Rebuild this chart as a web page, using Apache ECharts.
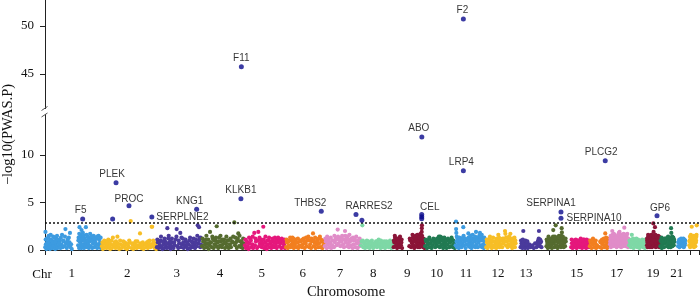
<!DOCTYPE html>
<html><head><meta charset="utf-8">
<script src="https://cdn.jsdelivr.net/npm/echarts@6/dist/echarts.min.js"></script>
<style>html,body{margin:0;padding:0;background:#fff}#c{width:700px;height:300px}</style>
</head><body><div id="c"></div>
<script>
// chromosome lengths (Mb)
const chrLen = [249,242,198,190,181,171,159,145,138,134,135,133,114,107,102,90,83,80,59,64,47,51];
// tick positions (cumulative Mb) and labels
const chrTicks = [117.6,362.6,580,771,954.6,1135,1299.6,1446,1596,1725.6,1854.6,1995.6,2119,2222,2342,2430,2518.5,2613.6,2678,2738.8,2783,2841];
const chrTickLabels = ['1','2','3','4','5','6','7','8','9','10','11','12','13','','15','','17','','19','','21',''];
const xMax = 2881;
const threshold = 2.92;

// [position within chromosome (Mb), -log10(P)]
const chr1 = [[1,0.3],[2,1.9],[4,0.6],[6,0.1],[8,1.2],[10,0.4],[12,0.8],[14,0.2],[16,1.5],[18,0.5],[20,0.9],[22,0.1],[24,0.6],[26,1.1],[28,0.3],[30,0.7],[33,0.2],[36,1.4],[38,0.5],[40,0.9],[43,0.3],[45,0.1],[47,0.7],[50,1.2],[52,0.4],[55,0.2],[58,0.8],[62,0.5],[65,1.0],[68,0.2],[72,0.6],[75,1.6],[78,0.3],[82,0.9],[86,0.4],[90,2.2],[93,0.7],[96,0.2],[100,1.1],[103,0.5],[108,0.8],[110,1.8],[112,0.3],[115,0.6],[118,0.1],[146,0.5],[148,1.3],[150,0.2],[152,2.4],[153,0.9],[155,0.4],[156,1.6],[158,0.7],[160,0.2],[161,2.1],[163,1.0],[165,0.4],[167,1.8],[170,0.6],[172,0.2],[175,1.2],[178,0.5],[180,2.4],[182,0.8],[185,0.3],[188,1.4],[190,0.6],[193,0.2],[196,0.9],[199,1.7],[202,0.4],[205,1.1],[208,0.2],[211,0.7],[214,1.5],[217,0.3],[220,0.9],[224,0.5],[227,1.2],[230,0.2],[234,0.6],[236,1.5],[240,0.3],[243,0.8],[246,0.2],[248,0.5],
  [3,1.1],[9,0.7],[15,1.3],[19,0.9],[25,1.6],[29,1.0],[35,0.8],[41,1.3],[46,0.9],[53,1.5],[57,1.1],[63,0.7],[70,1.3],[80,1.0],[88,1.4],[98,0.9],[105,1.3],[147,1.0],[151,1.7],[154,1.2],[157,1.1],[162,1.4],[166,1.2],[171,1.5],[176,0.9],[183,1.6],[187,1.0],[192,1.3],[198,1.1],[204,1.4],[210,1.0],[216,1.2],[222,0.8],[229,1.4],[238,1.1],[245,1.3]];
const chr2 = [[2,0.4],[6,0.1],[10,0.7],[14,0.3],[18,0.9],[22,0.2],[26,0.5],[30,1.1],[34,0.3],[38,0.1],[42,0.6],[46,0.2],[50,1.3],[54,0.4],[58,0.8],[62,0.2],[66,0.5],[70,1.4],[74,0.3],[78,0.1],[84,0.6],[88,0.2],[96,0.9],[100,0.4],[104,0.2],[108,0.7],[112,0.1],[116,0.5],[120,0.3],[125,0.8],[128.5,3.05],[132,0.2],[136,0.6],[140,0.1],[145,0.4],[150,0.9],[155,0.2],[160,0.5],[165,0.3],[169.5,1.75],[172,0.7],[176,0.2],[180,0.4],[185,0.1],[190,0.6],[196,0.3],[200,0.8],[204,0.2],[208,0.5],[212,1.0],[216,0.3],[219,0.6],[221,2.45],[223,2.45],[226,0.4],[230,0.8],[234,0.2],[238,0.5],[241,0.1],
  [4,0.8],[12,1.0],[20,0.6],[28,0.9],[36,0.7],[44,1.0],[56,0.6],[64,0.9],[72,0.7],[82,1.0],[92,0.5],[102,0.8],[114,0.6],[122,1.0],[138,0.7],[148,0.6],[158,0.9],[170,0.5],[182,0.8],[194,0.6],[206,0.9],[214,0.6],[228,1.0],[236,0.7]];
const chr3 = [[2,0.3],[6,0.8],[10,0.2],[14,0.5],[18,1.0],[22,0.3],[26,0.1],[30,0.6],[34,0.2],[38,0.9],[42,0.4],[46,0.2],[48,2.3],[50,0.7],[52,1.2],[55,0.3],[58,0.6],[62,0.1],[66,0.4],[70,0.8],[75,0.2],[80,0.5],[85,1.1],[89,2.2],[92,0.4],[96,0.2],[100,0.7],[105,1.8],[108,0.3],[112,0.6],[116,1.2],[120,0.2],[125,0.5],[130,0.9],[134,0.3],[138,0.1],[142,0.6],[146,1.0],[150,0.2],[154,0.4],[158,0.8],[162,0.3],[166,0.6],[170,0.2],[174,1.1],[178,0.4],[181.7,2.6],[184,0.7],[187.4,2.4],[190,1.2],[193,0.3],[196,0.6],
  [4,1.1],[12,0.8],[20,1.4],[28,0.9],[36,1.2],[44,0.7],[54,1.5],[60,0.9],[68,1.2],[78,0.8],[88,1.4],[98,1.0],[110,1.3],[118,0.8],[128,1.1],[136,0.7],[148,1.3],[156,0.9],[164,1.2],[172,0.8],[180,1.5],[188,1.0],[194,1.3]];
const chr4 = [[3,0.4],[8,0.9],[12,0.2],[16,0.6],[20,1.1],[24,0.3],[28,0.7],[32,0.1],[36,0.5],[38,1.9],[42,0.8],[46,0.3],[50,1.2],[54,0.2],[58,0.6],[62,1.0],[66,0.4],[67.4,2.5],[70,0.8],[74,0.2],[78,1.3],[82,0.5],[86,0.9],[90,0.3],[95,0.6],[100,1.1],[104,0.2],[108,0.7],[112,0.4],[116,1.0],[120,0.2],[125,0.6],[130,0.3],[135,0.9],[140,1.4],[145,2.9],[148,0.5],[152,0.8],[156,0.2],[160,1.2],[162.5,1.75],[166,0.4],[170,0.9],[174,0.3],[178,0.6],[182,0.2],[186,0.7],
  [5,1.2],[14,0.9],[22,1.5],[30,1.1],[40,0.8],[48,1.4],[56,1.0],[64,1.3],[76,0.9],[84,1.5],[92,1.1],[102,0.8],[110,1.4],[118,1.0],[128,1.2],[138,0.8],[150,1.3],[158,1.0],[168,1.5],[176,0.9],[184,1.2]];
const chr5 = [[2,0.5],[6,0.2],[10,0.9],[14,0.4],[18,0.1],[22,0.7],[26,1.2],[30,0.3],[34,0.6],[38,0.2],[43,1.8],[46,0.5],[50,0.9],[55,0.2],[60.6,1.9],[64,0.4],[68,0.7],[72,1.1],[76,0.3],[80,0.6],[82.7,2.45],[86,0.2],[90,0.8],[94,0.4],[98,0.1],[102,0.6],[106,1.0],[110,0.3],[114,0.7],[118,0.2],[122,0.5],[126,0.9],[130,0.3],[134,1.3],[138,0.5],[142,0.2],[146,0.8],[150,1.1],[154,0.4],[158,0.7],[162,0.2],[166,0.9],[170,0.3],[174,0.6],[178,0.2],
  [4,1.1],[12,0.8],[20,1.3],[28,1.0],[36,1.4],[48,1.2],[58,1.0],[66,1.3],[74,0.9],[84,1.1],[92,1.4],[100,1.0],[108,1.3],[116,0.9],[124,1.2],[132,0.8],[140,1.1],[148,1.3],[156,1.0],[164,1.2],[172,0.9],[176,1.1]];
const chr6 = [[2,0.3],[6,0.8],[10,0.2],[14,0.5],[18,1.0],[22,0.3],[26,0.6],[30,1.3],[31,0.9],[32,0.4],[33,0.7],[36,0.2],[40,0.6],[44,1.1],[48,0.3],[52,0.8],[56,0.2],[60,0.5],[66,0.9],[72,0.3],[76,0.6],[80,1.2],[84,0.2],[88,0.7],[92,0.4],[96,1.0],[100,1.4],[104,0.3],[108,0.6],[112,0.2],[116,0.9],[120.6,1.75],[124,0.4],[128,0.8],[132,0.2],[136,0.6],[140,1.1],[144,0.3],[148,0.7],[151,1.4],[154,0.3],[158,0.9],[162,0.2],[166,0.5],[169,0.8],
  [4,1.1],[12,0.9],[20,1.3],[28,1.0],[34,1.2],[38,1.0],[46,0.8],[54,1.2],[64,1.0],[74,1.1],[82,0.9],[90,1.3],[98,1.1],[106,1.0],[114,1.2],[122,1.0],[130,1.3],[138,0.9],[146,1.2],[156,1.1],[164,1.0]];
const chr7 = [[2,0.4],[6,0.9],[10,0.2],[14,0.6],[18,1.1],[22,0.3],[26,0.7],[30,0.2],[34,0.5],[38,1.0],[42,0.3],[46,0.8],[50,1.3],[54,0.5],[58.4,2.15],[62,0.7],[66,1.2],[70,0.4],[74,0.9],[78,1.5],[82,0.6],[86,0.3],[90.6,2.0],[94,0.8],[98,1.1],[100,0.4],[102,1.4],[104,0.7],[108,0.3],[112,0.9],[116,0.5],[120,1.2],[124,0.2],[128,0.6],[132,1.0],[136,0.3],[142,0.7],[146,0.2],[150,0.9],[154,0.4],[157,0.6],
  [4,1.2],[12,1.4],[20,0.9],[28,1.3],[36,1.0],[44,1.5],[52,1.1],[60,1.4],[68,1.0],[76,1.3],[84,1.1],[92,1.5],[96,1.2],[106,1.1],[110,1.6],[118,1.0],[126,1.3],[134,1.1],[140,1.4],[148,1.0],[155,1.2]];
const chr8 = [[2,0.5],[5,0.9],[8,2.6],[12,0.3],[16,0.7],[20,0.2],[24,0.5],[28,1.0],[32,0.3],[36,0.6],[40,0.2],[44,0.8],[48,0.4],[52,0.6],[56,0.2],[62,0.5],[68,0.9],[72,0.3],[76,0.6],[80,1.1],[84,0.4],[88,0.2],[92,0.7],[96,0.3],[100,0.5],[104,0.9],[108,0.2],[112,0.6],[116,0.4],[120,0.8],[124,0.3],[128,0.5],[132,0.9],[136,0.2],[140,0.6],[143,0.4],
  [10,1.0],[18,0.8],[26,0.6],[34,0.9],[42,0.7],[50,1.0],[58,0.7],[66,0.6],[74,0.9],[82,0.7],[90,1.0],[98,0.8],[106,0.6],[114,0.9],[122,0.7],[130,1.0],[138,0.8]];
const chr9 = [[1,0.3],[4,0.8],[7,1.3],[10,0.4],[13,1.0],[16,0.2],[20,0.6],[24,1.2],[27,0.3],[30,0.8],[33,0.5],[36,1.1],[38,0.2],[70,0.4],[74,1.0],[78,0.3],[82,0.7],[86,1.3],[88,0.5],[92,0.2],[95,0.9],[98,1.5],[100,0.4],[103,0.7],[106,1.1],[108,0.3],[110,0.6],[112,1.4],[114,0.8],[116,0.3],[118,1.0],[120,0.5],[122,1.5],[123,0.9],[124.5,1.9],[125,2.3],[125.5,2.6],[127,1.2],[129,0.6],[131,0.3],[133,0.8],[135,0.4],[137,0.2],
  [2,1.0],[6,1.5],[12,0.7],[18,1.2],[22,0.9],[29,1.4],[35,0.8],[72,1.2],[80,0.9],[84,1.6],[90,1.0],[96,1.3],[102,1.1],[105,1.6],[111,1.0],[115,1.3],[119,1.7],[121,1.1],[126,1.5],[128,1.0],[132,1.2],[136,0.9]];
const chr10 = [[2,0.4],[6,0.9],[10,0.2],[14,0.6],[18,1.1],[22,0.3],[26,0.7],[30,0.2],[34,0.5],[40,0.9],[46,0.3],[50,0.6],[54,1.2],[58,0.4],[62,1.4],[64,0.8],[66,0.3],[70,1.0],[72,0.5],[75,1.3],[78,0.6],[81,0.2],[84,0.9],[88,0.4],[92,0.7],[96,0.2],[100,0.6],[104,1.0],[108,0.3],[112,0.8],[116,0.4],[120,1.1],[124,0.3],[128,0.6],[132,0.2],
  [4,1.1],[12,0.8],[20,1.3],[28,1.0],[38,1.2],[44,0.8],[52,1.0],[56,0.9],[60,1.1],[68,1.4],[73,1.0],[77,1.2],[82,1.0],[86,1.3],[94,1.0],[102,1.2],[110,0.9],[118,1.3],[126,1.0],[130,0.8]];
const chr11 = [[2,0.5],[3.6,3.0],[4,2.2],[5,1.8],[6,0.9],[8,0.3],[10,1.2],[13,0.6],[16,0.2],[19,0.8],[22,0.4],[25,1.0],[28,0.3],[31,0.7],[34,1.3],[35.7,2.4],[38,0.5],[42,0.9],[46,0.2],[50,0.6],[54,1.1],[57.8,1.75],[60,0.4],[62,0.8],[64,1.3],[66,0.3],[68,0.6],[70,1.0],[72,0.2],[75,0.7],[78,1.2],[82,0.4],[86,0.9],[89,0.3],[91.7,1.9],[94,0.6],[97,1.2],[100,0.3],[103,0.8],[106,1.5],[109,1.8],[112,0.5],[115,1.0],[118,0.3],[120,1.3],[123,0.6],[126,0.2],[129,0.9],[132,0.4],
  [7,1.4],[12,1.0],[18,1.3],[24,0.8],[30,1.1],[37,1.5],[44,1.2],[52,1.0],[59,1.3],[63,1.0],[67,1.5],[71,1.1],[77,1.6],[84,1.1],[88,1.4],[96,1.0],[101,1.3],[108,1.1],[111,1.4],[117,1.6],[122,1.1],[128,1.3],[131,0.9]];
const chr12 = [[2,0.3],[5,0.8],[8,0.2],[11,0.6],[14,1.0],[18,1.4],[20,0.4],[23,0.8],[26,0.2],[30,0.5],[34,0.9],[38,0.3],[42,0.6],[46,0.2],[50,1.1],[53,0.5],[55,1.6],[57,0.8],[60,0.3],[64,0.6],[68,1.0],[72,0.3],[76,0.7],[80,1.2],[84.4,2.0],[86,1.7],[88,0.5],[92,0.9],[96,0.3],[100,0.6],[104,1.0],[106,1.25],[108,1.7],[110,0.4],[113,0.8],[116,0.2],[120,0.6],[124,1.1],[128,0.3],[131,0.7],
  [4,1.1],[10,0.9],[16,1.2],[24,1.0],[32,1.3],[40,0.9],[48,1.2],[52,0.9],[58,1.3],[66,1.0],[74,1.2],[82,0.9],[90,1.3],[98,1.0],[102,1.4],[109,1.0],[118,1.2],[122,0.9],[126,1.3],[130,1.0]];
const chr13 = [[20,0.3],[24,0.7],[28,0.2],[32,2.0],[36,0.5],[40,0.2],[44,0.8],[48,0.4],[52,0.2],[58,0.6],[64,0.3],[72,0.5],[78,0.2],[84,0.7],[90,0.3],[95,0.6],[98,1.0],[101,2.0],[104,0.4],[108,0.8],[112,0.3],
  [22,1.0],[26,0.5],[30,1.1],[34,0.8],[38,0.6],[42,1.0],[46,0.6],[50,0.9],[96,0.9],[100,1.2],[102,0.6],[106,1.1],[110,0.9]];
const chr14 = [[20,0.4],[23,0.9],[26,0.2],[29,1.4],[32,0.6],[35,0.3],[38,1.0],[41,0.5],[44,0.2],[47,1.2],[50,2.1],[52,0.7],[55,0.3],[58,1.0],[60.8,2.6],[63,0.5],[66,1.3],[69,0.2],[72,0.8],[75,1.5],[78,0.4],[81,1.0],[84,0.3],[87,2.3],[88,1.85],[90,0.6],[93,1.1],[96,0.3],[99,0.8],[102,0.4],[105,0.9],
  [21,1.1],[25,0.7],[30,1.0],[34,1.2],[40,0.8],[46,1.0],[49,1.4],[53,1.1],[57,1.4],[62,1.1],[65,0.9],[70,1.1],[74,1.0],[77,1.3],[80,0.7],[83,1.2],[86,1.5],[89,1.1],[92,1.4],[95,0.8],[98,1.2],[101,1.0],[104,1.2]];
const chr15 = [[22,0.3],[25,0.7],[28,0.2],[32,0.5],[36,0.9],[40,0.3],[43,0.6],[46,0.2],[50,1.0],[53,0.4],[56,0.7],[60,0.3],[64,1.2],[67,0.5],[70,0.2],[73,0.8],[76,0.4],[79,1.1],[82,0.3],[85,0.6],[88,0.2],[91,0.9],[94,0.4],[97,0.7],[100,0.3],
  [24,1.1],[30,0.8],[34,1.0],[38,0.6],[42,1.1],[48,0.8],[52,1.0],[58,0.9],[62,0.7],[66,1.0],[72,0.6],[75,1.1],[78,0.7],[84,1.0],[87,0.8],[90,1.1],[96,0.9],[99,1.0]];
const chr16 = [[2,0.4],[6,0.8],[10,0.2],[14,0.6],[18,1.0],[22,0.3],[26,0.7],[30,0.2],[34,0.5],[46,0.3],[50,0.8],[54,0.2],[58,0.6],[62,1.0],[66,0.3],[70,1.75],[72,0.5],[75,0.9],[78,0.2],[81,0.6],[84,1.1],[87,0.4],[89,0.7],
  [4,1.0],[12,0.9],[16,1.2],[20,0.7],[28,1.0],[48,0.9],[56,1.1],[60,0.8],[64,1.2],[68,0.9],[74,1.3],[77,0.8],[80,1.0],[83,0.8],[86,1.2],[88,1.0]];
const chr17 = [[1,0.6],[3,1.2],[5,0.3],[7,0.9],[9,1.5],[11,2.0],[13,0.7],[15,1.3],[17,0.4],[19,1.0],[21,1.6],[24,0.5],[27,1.1],[30,0.3],[33,0.8],[36,1.4],[38,0.6],[40,1.8],[41,1.0],[42,0.4],[44,1.3],[46,0.7],[48,1.6],[50,0.3],[52,1.0],[54,0.6],[56,1.4],[58,0.4],[60,0.9],[62,1.2],[64,2.35],[66,0.7],[68,1.1],[70,0.4],[72,0.9],[74,1.5],[76,0.5],[78,1.0],[80,0.3],[82,0.7],
  [2,0.9],[4,1.5],[6,1.1],[8,0.6],[10,1.2],[12,1.6],[14,0.9],[16,1.1],[18,1.7],[20,0.7],[22,1.2],[26,0.8],[29,1.4],[32,1.0],[35,0.7],[37,1.6],[39,1.2],[43,1.9],[45,1.0],[47,1.3],[49,0.9],[51,1.6],[53,1.2],[55,0.9],[57,1.5],[59,1.1],[61,1.7],[63,0.9],[65,1.3],[67,1.6],[69,1.0],[71,1.3],[73,0.8],[75,1.2],[77,1.7],[79,0.9],[81,1.2]];
const chr18 = [[2,0.5],[6,0.9],[10,0.3],[14,1.6],[18,0.6],[22,0.2],[26,0.8],[30,0.4],[34,1.2],[38,0.3],[44,0.6],[48,0.2],[52,0.9],[56,0.4],[60,1.1],[64,0.3],[68,0.7],[72,0.2],[76,0.5],[78,0.9],
  [4,1.0],[8,0.6],[12,1.1],[16,0.8],[20,1.2],[24,0.9],[28,0.5],[32,1.0],[36,0.7],[42,1.1],[46,0.9],[50,0.6],[54,1.0],[58,0.8],[62,0.6],[66,1.0],[70,0.9],[74,1.1]];
const chr19 = [[1,0.5],[2,1.0],[4,0.3],[5,1.3],[7,0.7],[8,1.5],[10,0.4],[11,0.9],[13,1.2],[14,0.3],[16,0.8],[18,1.4],[19,0.5],[21,1.0],[23,0.3],[25,1.3],[27,0.6],[28.7,2.8],[30,1.9],[32,0.9],[33,0.4],[35,1.2],[36,2.4],[37,0.7],[39,1.4],[40,0.3],[42,1.0],[44,0.6],[45,1.3],[47,0.4],[49,0.9],[50,1.5],[52,0.5],[53,1.1],[55,0.3],[56,0.8],[58,0.5],
  [1.5,1.2],[3,0.8],[6,1.6],[9,1.1],[12,0.6],[15,1.3],[17,1.0],[20,1.6],[22,0.8],[24,1.1],[26,1.5],[29,1.2],[31,1.4],[34,1.0],[38,1.6],[41,0.8],[43,1.4],[46,1.0],[48,1.2],[51,1.0],[54,1.4],[57,1.2]];
const chr20 = [[1,0.4],[4,0.9],[7,0.2],[10,0.6],[13,1.1],[17,0.3],[21,0.7],[25,1.2],[30,0.4],[33,0.9],[35,1.4],[37,0.3],[39,0.8],[42,0.5],[44,1.1],[46,0.3],[48,2.3],[49,1.8],[50,0.6],[52,1.0],[54,0.4],[56,0.8],[58,1.3],[60,0.5],[62,0.9],
  [2,1.0],[6,1.3],[9,0.8],[12,1.1],[15,0.9],[19,1.2],[23,0.9],[27,1.0],[32,1.3],[34,0.7],[36,1.0],[41,1.2],[45,0.8],[47,1.3],[51,1.0],[53,1.4],[55,0.9],[57,1.2],[59,0.8],[61,1.1]];
const chr21 = [[15,0.4],[18,0.9],[21,0.3],[26,0.6],[30,1.0],[33,0.4],[35,0.7],[38,1.2],[40,0.3],[42,0.8],[44,0.5],[46,1.0],
  [16,0.8],[20,1.1],[24,0.9],[28,1.2],[32,0.8],[34,1.1],[37,0.6],[39,1.0],[41,0.6],[43,1.1],[45,0.7]];
const chr22 = [[17,0.5],[19,1.0],[21,0.3],[23,0.8],[25,1.3],[27,0.6],[28,2.45],[30,0.4],[32,0.9],[34,0.5],[36,1.2],[38,0.3],[40,0.7],[42,1.0],[44,0.4],[46,0.8],[48,1.4],[50,2.6],
  [18,0.9],[20,1.4],[22,1.1],[24,1.6],[26,1.0],[29,1.3],[31,0.8],[33,1.2],[35,0.9],[37,1.5],[39,1.0],[41,1.3],[43,0.9],[45,1.2],[47,1.0],[49,1.6]];

// significant genes
const sigGenes = ['F5','','PLEK','PROC','SERPLNE2','KNG1','KLKB1','F11','THBS2','RARRES2','','CEL','','','ABO','LRP4','F2','SERPINA1','SERPINA10','PLCG2','GP6'];
const sigChr   = [1,2,2,2,2,3,4,4,6,7,8,9,9,9,9,11,11,14,14,16,19];
const sigPos   = [166,49,64,121,221.6,177,174,176,157,139,6,124.5,124.5,124.5,125,36,36,84,84,70,45];
const sigVal   = [3.26,3.26,7.08,4.66,3.47,4.28,5.4,45.76,4.07,3.75,3.12,3.75,3.5,3.3,11.9,8.35,50.73,4.0,3.33,9.4,3.6];

// ---- styling / layout (not data) ----
const palette = ['#3D9BE0','#F7BE26','#4A3A9C','#556B2F','#E5177C','#F27F20','#E08CC8','#7ED8A6','#8B1538','#217A52'];
const navy = '#0a0a8c';
const labelLayout = {
  'F5':{position:'top',offset:[-2,0]}, 'PLEK':{position:'top',offset:[-4,0]}, 'PROC':{position:'top',offset:[0,2]},
  'SERPLNE2':{position:'right',offset:[0,0]}, 'KNG1':{position:'top',offset:[-7,0]}, 'KLKB1':{position:'top',offset:[0,0]},
  'F11':{position:'top',offset:[0,0]}, 'THBS2':{position:'top',offset:[-11,0]}, 'RARRES2':{position:'top',offset:[13,0]},
  'CEL':{position:'top',offset:[8,1]}, 'ABO':{position:'top',offset:[-3,0]}, 'LRP4':{position:'top',offset:[-2,0]},
  'F2':{position:'top',offset:[-1,0]}, 'SERPINA1':{position:'top',offset:[-10,0]}, 'SERPINA10':{position:'right',offset:[1,0]},
  'PLCG2':{position:'top',offset:[-4,0]}, 'GP6':{position:'top',offset:[3,1]}
};

const chrData = [chr1,chr2,chr3,chr4,chr5,chr6,chr7,chr8,chr9,chr10,chr11,chr12,chr13,chr14,chr15,chr16,chr17,chr18,chr19,chr20,chr21,chr22];
const chrStart = [];
chrLen.reduce((acc, l, i) => { chrStart[i] = acc; return acc + l; }, 0);

const serif = '"Liberation Serif","Times New Roman",serif';
const sans = '"Liberation Sans",Arial,sans-serif';
const axisColor = '#222';

const series = chrData.map((d, i) => ({
  type: 'scatter', xAxisIndex: 1, yAxisIndex: 1, clip: false, silent: true,
  symbolSize: 4.2,
  itemStyle: { color: palette[i % 10], opacity: 1 },
  data: d.map(([p, v]) => [chrStart[i] + p, v])
}));
series[0].markLine = {
  silent: true, symbol: 'none', animation: false,
  label: { show: false },
  lineStyle: { type: [2, 2], color: '#111', width: 1.5 },
  data: [{ yAxis: threshold }]
};

function sigItem(i) {
  const name = sigGenes[i];
  const lay = labelLayout[name] || { position: 'top', offset: [0, 0] };
  return {
    name: name,
    value: [chrStart[sigChr[i] - 1] + sigPos[i], sigVal[i]],
    label: {
      show: !!name, formatter: name, position: lay.position, offset: lay.offset,
      distance: lay.position === 'right' ? 2 : 1,
      fontFamily: sans, fontSize: 10, color: '#000'
    }
  };
}
const lowIdx = [], highIdx = [];
sigVal.forEach((v, i) => (v > 20 ? highIdx : lowIdx).push(i));
series.push({
  type: 'scatter', xAxisIndex: 1, yAxisIndex: 1, clip: false, silent: true,
  symbolSize: 5, itemStyle: { color: navy }, z: 5,
  data: lowIdx.map(sigItem)
});
series.push({
  type: 'scatter', xAxisIndex: 0, yAxisIndex: 0, clip: false, silent: true,
  symbolSize: 5, itemStyle: { color: navy }, z: 5,
  data: highIdx.map(sigItem)
});

const tickLabelMap = new Map(chrTicks.map((t, i) => [t, chrTickLabels[i]]));

const option = {
  animation: false,
  backgroundColor: '#fff',
  grid: [
    { left: 45, right: 1, top: 0, height: 109 },
    { left: 45, right: 1, top: 114, bottom: 50 }
  ],
  xAxis: [
    { gridIndex: 0, type: 'value', min: 0, max: xMax, show: false },
    {
      gridIndex: 1, type: 'value', min: 0, max: xMax, offset: 8,
      axisLine: { show: true, lineStyle: { color: axisColor, width: 1 } },
      axisTick: { show: true, length: 5, customValues: [0].concat(chrTicks, [xMax]), lineStyle: { color: axisColor } },
      axisLabel: {
        customValues: chrTicks.filter((t, i) => chrTickLabels[i] !== ''),
        formatter: v => tickLabelMap.get(v) || '',
        fontFamily: serif, fontSize: 13, color: '#111', margin: 9, hideOverlap: false
      },
      splitLine: { show: false }
    }
  ],
  yAxis: [
    {
      gridIndex: 0, type: 'value', min: 41.35, max: 52.71,
      axisLine: { show: true, lineStyle: { color: axisColor } },
      axisTick: { show: true, length: 5, customValues: [45, 50], lineStyle: { color: axisColor } },
      axisLabel: { customValues: [45, 50], fontFamily: serif, fontSize: 13, color: '#111', margin: 11 },
      splitLine: { show: false }
    },
    {
      gridIndex: 1, type: 'value', min: 0, max: 14.32,
      axisLine: { show: true, lineStyle: { color: axisColor } },
      axisTick: { show: true, length: 5, customValues: [0, 5, 10], lineStyle: { color: axisColor } },
      axisLabel: { customValues: [0, 5, 10], fontFamily: serif, fontSize: 13, color: '#111', margin: 11 },
      splitLine: { show: false }
    }
  ],
  graphic: [
    { type: 'text', x: 42, y: 275, style: { text: 'Chr', font: '13px ' + serif, fill: '#111', textAlign: 'center', textVerticalAlign: 'middle' } },
    { type: 'text', x: 346, y: 292, style: { text: 'Chromosome', font: '14.5px ' + serif, fill: '#111', textAlign: 'center', textVerticalAlign: 'middle' } },
    { type: 'text', x: 8.5, y: 134.5, rotation: Math.PI / 2, style: { text: '\u2212log10(PWAS.P)', font: '14.5px ' + serif, fill: '#111', textAlign: 'center', textVerticalAlign: 'middle' } },
    { type: 'rect', shape: { x: 40, y: 109, width: 10, height: 5 }, style: { fill: '#fff' }, z: 100 },
    { type: 'line', shape: { x1: 41.5, y1: 110.5, x2: 47.5, y2: 106.5 }, style: { stroke: '#555', lineWidth: 1 }, z: 101 },
    { type: 'line', shape: { x1: 41.5, y1: 117, x2: 47.5, y2: 113 }, style: { stroke: '#555', lineWidth: 1 }, z: 101 }
  ],
  series: series
};

const chart = echarts.init(document.getElementById('c'), null, { renderer: 'canvas' });
chart.setOption(option);
</script>
</body></html>
